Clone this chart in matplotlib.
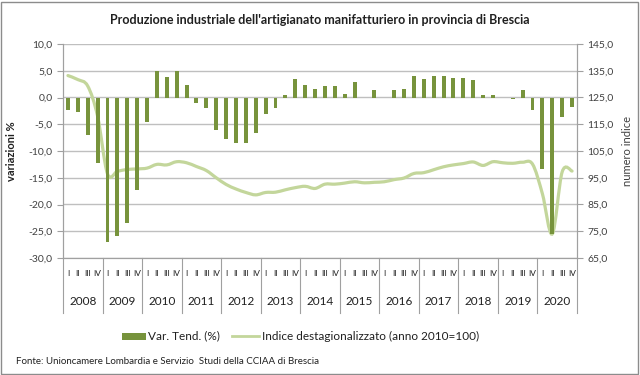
import matplotlib
matplotlib.use("Agg")
from matplotlib import pyplot as plt
from matplotlib.path import Path
from matplotlib.patches import PathPatch, Rectangle
import matplotlib.transforms as mtransforms
import numpy as np

# quarterly data 2008-2020
years = ["2008", "2009", "2010", "2011", "2012", "2013", "2014",
         "2015", "2016", "2017", "2018", "2019", "2020"]
quarters = ["I", "II", "III", "IV"]

var_tend = [-2.4, -2.7, -7.0, -12.2,
            -27.0, -25.8, -23.4, -17.2,
            -4.6, 4.9, 3.9, 4.9,
            2.4, -1.0, -1.9, -6.0,
            -7.8, -8.5, -8.5, -6.6,
            -3.0, -2.0, 0.5, 3.5,
            2.4, 1.5, 2.2, 2.2,
            0.7, 2.9, 0.0, 1.4,
            -0.1, 1.4, 1.5, 4.1,
            3.4, 4.0, 4.0, 3.6,
            3.6, 3.2, 0.4, 0.5,
            0.0, -0.3, 1.4, -2.3,
            -13.4, -25.5, -3.6, -1.7]

indice = [133.2, 131.7, 129.3, 118.0,
          96.5, 97.4, 98.1, 98.3,
          98.6, 100.0, 99.8, 101.0,
          100.6, 99.2, 97.7, 95.0,
          92.5, 90.8, 89.5, 88.6,
          89.5, 89.6, 90.5, 91.3,
          91.8, 91.0, 92.6, 92.6,
          93.0, 93.5, 93.1, 93.3,
          93.5, 94.3, 94.9, 96.6,
          96.9, 98.0, 99.1, 99.8,
          100.3, 100.9, 99.6, 101.0,
          100.6, 100.4, 100.8, 100.1,
          89.0, 74.0, 97.2, 97.5]

bar_col = "#77933C"
line_col = "#C3D69B"
grid_col = "#BFBFBF"
font = "Lato"
plt.rcParams["font.family"] = [font, "DejaVu Sans"]


def smooth_path(x, y):
    # bezier path like excel's smoothed line
    x = np.asarray(x, float)
    y = np.asarray(y, float)
    pts = np.column_stack([x, y])
    verts = [pts[0]]
    codes = [Path.MOVETO]
    n = len(pts)
    for i in range(n - 1):
        p0 = pts[i - 1] if i > 0 else pts[i]
        p1 = pts[i]
        p2 = pts[i + 1]
        p3 = pts[i + 2] if i + 2 < n else pts[i + 1]
        c1 = p1 + (p2 - p0) / 6.0
        c2 = p2 - (p3 - p1) / 6.0
        verts += [c1, c2, p2]
        codes += [Path.CURVE4] * 3
    return Path(verts, codes)


fig = plt.figure(figsize=(6.4, 3.75), dpi=100)
ax = fig.add_axes([63 / 640, 1 - 258 / 375, (577 - 63) / 640, (258 - 44) / 375])
ax2 = ax.twinx()

x = np.arange(len(var_tend))

# line on secondary axis, bars on top
ax2.add_patch(PathPatch(smooth_path(x, indice), fill=False, edgecolor=line_col,
                        linewidth=2.3, transform=ax2.transData, capstyle="round"))
ax2.set_ylim(65, 145)
ax2.set_yticks(np.arange(65, 146, 10))
ax2.set_yticklabels([("%.1f" % v).replace(".", ",") for v in np.arange(65, 146, 10)],
                    fontsize=7.5, color="#404040")
ax2.grid(axis="y", color=grid_col, linewidth=1)
ax2.set_axisbelow(True)
ax2.set_ylabel("numero indice", fontsize=8, color="#404040", labelpad=6)

ax.set_zorder(ax2.get_zorder() + 1)
ax.patch.set_visible(False)
ax.bar(x, var_tend, width=0.4, color=bar_col, zorder=3)
ax.set_xlim(-0.5, len(x) - 0.5)
ax.set_ylim(-30, 10)
ax.set_yticks(np.arange(-30, 11, 5))
ax.set_yticklabels([("%.1f" % v).replace(".", ",") for v in np.arange(-30, 11, 5)],
                   fontsize=7.5, color="#404040")
ax.set_ylabel("variazioni %", fontsize=8, fontweight="bold", color="#202020", labelpad=8)

ax.set_xticks(x)
ax.set_xticklabels(quarters * len(years), fontsize=6, color="#202020")
ax.tick_params(axis="x", length=0, pad=9)
ax.tick_params(axis="y", length=4, color="#A0A0A0")
ax2.tick_params(axis="y", length=4, color="#A0A0A0")

for a in (ax, ax2):
    a.spines["top"].set_visible(False)
    for s in ("left", "right", "bottom"):
        a.spines[s].set_color("#A0A0A0")

# year labels and separators
trans = mtransforms.blended_transform_factory(ax.transData, ax.transAxes)
for k, yr in enumerate(years):
    ax.text(4 * k + 1.5, -0.205, yr, transform=trans, ha="center", va="center",
            fontsize=8.5, color="#202020")
for k in range(len(years) + 1):
    ax.plot([4 * k - 0.5, 4 * k - 0.5], [0, -0.255], transform=trans,
            color="#A0A0A0", linewidth=0.8, clip_on=False)

fig.text(0.5, 1 - 20 / 375, "Produzione industriale dell'artigianato manifatturiero in provincia di Brescia",
         ha="center", va="center", fontsize=9, fontweight="bold", color="#202020")

# legend
fig.patches.append(Rectangle((122 / 640, 1 - 340 / 375), 24 / 640, 7 / 375,
                             transform=fig.transFigure, facecolor=bar_col, edgecolor="none"))
fig.text(148 / 640, 1 - 336 / 375, "Var. Tend. (%)", ha="left", va="center",
         fontsize=8.5, color="#202020")
fig.lines.append(plt.Line2D([232 / 640, 259 / 640], [1 - 336 / 375, 1 - 336 / 375],
                            transform=fig.transFigure, color=line_col, linewidth=2))
fig.text(262 / 640, 1 - 336 / 375, "Indice destagionalizzato (anno 2010=100)", ha="left",
         va="center", fontsize=8.5, color="#202020")

fig.text(16 / 640, 1 - 361 / 375, "Fonte: Unioncamere Lombardia e Servizio  Studi della CCIAA di Brescia",
         ha="left", va="center", fontsize=7, color="#202020")

# outer frame
fig.patches.append(Rectangle((1 / 640, 1 / 375), 637 / 640, 372 / 375, transform=fig.transFigure,
                             fill=False, edgecolor="#8C8C8C", linewidth=1))

fig.savefig("out.png", dpi=100)
